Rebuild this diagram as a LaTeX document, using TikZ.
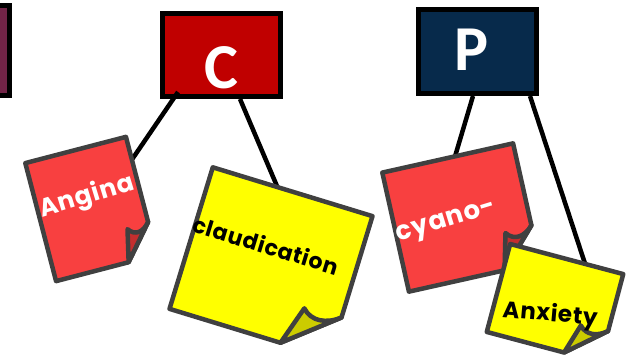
\documentclass[tikz,border=0pt]{standalone}
\usepackage{fontspec}
\newfontfamily\boxfont{Carlito}
\newfontfamily\notefont{Poppins}[LetterSpace=3]

\definecolor{boxred}{HTML}{C00000}
\definecolor{boxnavy}{HTML}{072A4B}
\definecolor{boxplum}{HTML}{722447}
\definecolor{notered}{HTML}{F84040}
\definecolor{notereddark}{HTML}{C42E2E}
\definecolor{noteyellow}{HTML}{FFFF00}
\definecolor{noteyellowdark}{HTML}{CCCC00}
\definecolor{noteedge}{HTML}{404040}

% centre, angle, half width, half height, fold (side), fold (bottom), colour
\newcommand\stickynote[7]{%
  \begin{scope}[shift={#1}, rotate=#2]
    \filldraw[note, fill=#7] (-#3,-#4) -- (#3,-#4) -- (#3,#4-#5) -- (#3-#6,#4) -- (-#3,#4) -- cycle;
    \filldraw[note, fill=#7dark] (#3,#4-#5)
      .. controls (#3-0.25*#6,#4-0.75*#5) and (#3-0.55*#6,#4-0.7*#5) .. (#3-0.75*#6,#4-0.95*#5)
      -- (#3-#6,#4) -- cycle;
  \end{scope}}

\begin{document}
\begin{tikzpicture}[x=1pt,y=-1pt]

\tikzset{
  box/.style = {draw=black, line width=5pt, minimum width=118pt,
                minimum height=83pt, inner sep=0pt},
  letter/.style = {text=white, font=\boxfont\bfseries\fontsize{64}{64}\selectfont},
  link/.style = {draw=black, line width=4.5pt},
  note/.style = {draw=noteedge, line width=4.5pt, line join=round},
  notetext/.style = {font=\notefont\bfseries\fontsize{25}{30}\selectfont, inner sep=0pt} }

  \clip (0,0) rectangle (628,359);

  \node[box, fill=boxplum, minimum height=90pt] (O) at (-50,50) {};
  \node[box, fill=boxred] (C) at (221.5,55) {};
  \node[box, fill=boxnavy, minimum height=84pt] (P) at (477.5,51.5) {};

  \node[letter] (Cl) at (221,68) {C};
  \node[letter] (Pl) at (472,50) {P};

  \coordinate (angina) at (118,180);
  \coordinate (claud) at (285,205);
  \coordinate (cyano) at (448,180);
  \coordinate (anxiety) at (592,285);

  \draw[link] ([xshift=-43.5pt,yshift=7pt]C.south) -- (angina);
  \draw[link] ([xshift=18.5pt]C.south) -- (claud);
  \draw[link] ([xshift=-4.5pt]P.south) -- (cyano);
  \draw[link] ([xshift=52.5pt]P.south) -- (anxiety);

  \stickynote{(91,209)}{14.6}{52}{61}{34}{29}{notered}
  \stickynote{(271,262.5)}{-17}{83.5}{74}{42}{51}{noteyellow}
  \stickynote{(461,217.5)}{12.6}{67}{61}{38}{36}{notered}
  \stickynote{(555,303)}{-14.9}{58.5}{45.5}{32}{37}{noteyellow}

  \node[notetext, text=white, rotate=17] (tA) at (87,197) {Angina};
  \node[notetext, rotate=-17, font=\notefont\bfseries\fontsize{22}{26}\selectfont] (tL) at (266,245) {claudication};
  \node[notetext, text=white, rotate=17, font=\notefont\bfseries\fontsize{26}{30}\selectfont] (tC) at (447,223) {cyano-};
  \node[notetext, rotate=-5, font=\notefont\bfseries\fontsize{23}{28}\selectfont] (tX) at (550,315) {Anxiety};

\end{tikzpicture}
\end{document}
